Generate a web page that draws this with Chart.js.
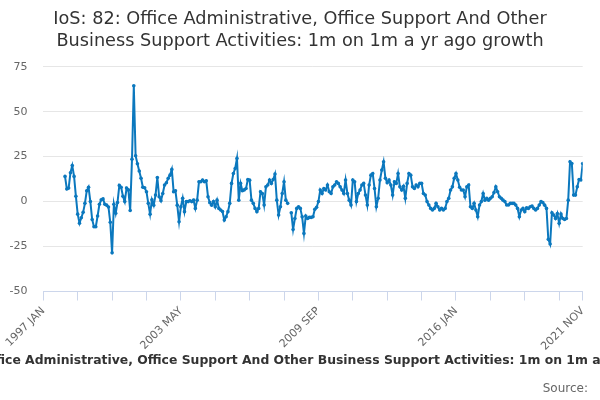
<!DOCTYPE html>
<html><head><meta charset="utf-8">
<script src="https://cdn.jsdelivr.net/npm/chart.js@4"></script>
<style>html,body{margin:0;padding:0;background:#fff}</style>
</head><body>
<canvas id="c" width="600" height="400"></canvas>
<script>
const monthNames = ['JAN','FEB','MAR','APR','MAY','JUN','JUL','AUG','SEP','OCT','NOV','DEC'];
const firstYear = 1997, lastYear = 2021, lastMonthIndex = 10;
const categories = [];
for (let y = firstYear; y <= lastYear; y++) {
  for (let m = 0; m < 12; m++) {
    if (y === lastYear && m > lastMonthIndex) break;
    categories.push(y + ' ' + monthNames[m]);
  }
}
const growth = [
  null,null,null,null,null,null,null,null,null,null,null,null,
  14, 7, 7.5, 16, 20, 14, 3, -7, -12, -9, -6, -1,
  6, 8, 0, -10, -14, -14, -8, -1.5, 1, 1.5, -1.5, -2,
  -3, -11.5, -28.5, -1.5, -6.5, -0.5, 9, 8, 3, 0, 7.5, 6.5,
  -5, 23.6, 64.4, 25.5, 21, 17, 13, 8, 7.7, 5.5, -1, -7,
  1, -2, 3.6, 13.4, 2.7, 0.5, 4.5, 9.2, 10.5, 12.9, 14.7, 17.9,
  5.5, 6, -2, -11.2, -2.9, 1.8, -5.6, 0, 0, 0.5, 0, 0.8,
  -3.8, 0.8, 11, 11, 12, 11, 11.6, 2.7, -0.6, -2, 0, -2.9,
  0.8, -3.8, -4.7, -5.5, -10.3, -8.4, -5.6, -1, 10.1, 15.6, 18.4, 24,
  0.8, 10.1, 6, 6.5, 7.3, 12.3, 11.9, 0.8, -1, -3.8, -5.6, -3.8,
  5.5, 4.5, -1.9, 8.2, 9.2, 12, 10.1, 12.3, 15.3, 0.8, -7.5, -2.9,
  4.5, 11, 0.8, -1, null, -6.2, -15.5, -9.4, -3.8, -2.9, -3.8, -8.5,
  -17.7, -8, -9.4, -8.8, -8.8, -8.4, -4.3, -3.2, 0, 6.4, 4.5, 7.3,
  6.4, 9.2, 5.5, 4.5, 8.2, 9.2, 11, 10.1, 8.2, 6.4, 4.5, 12,
  4.5, 0.8, -1.9, 12, 11, 0, 4.5, 6.4, 9.2, 10.1, 3.6, -1.9,
  9.2, 14.7, 15.6, 7.3, -2.9, 1.8, 12, 17.5, 22.1, 13, 10.5, 12,
  9.2, 3.6, 11, 10.1, 15.6, 8.2, 6.4, 8.5, 1.8, 10.1, 15.6, 14.7,
  8.2, 7.3, 9.2, 8.2, 10.1, 10.1, 4.5, 3.6, 0, -1.9, -3.8, -4.7,
  -3.8, -1, -2.9, -4.7, -3.8, -4.7, -3.8, 0, 1.8, 6.4, 8.2, 12.9,
  15.6, 12, 8, 6.4, 6.4, 2.7, 8.2, 9.2, -2.9, -3.8, -1, -4.7,
  -8.4, -1.9, 0, 4.5, 0.8, 1.8, 0.8, 1.8, 2.7, 5, 8.2, 5.5,
  2.7, 1.8, 0.8, 0, -1.9, -1.9, -1, -1, -1, -1.9, -3.8, -8.4,
  -4.7, -3.8, -5.6, -3.5, -3.8, -2.9, -2.5, -3.8, -4.7, -3.8, -1.9, 0,
  -0.6, -2, -3.8, -21, -23.6, -6.2, -7.5, -9.4, -6.6, -12.1, -6.9, -9.4,
  -9.9, -9.4, 0.8, 22.1, 21.2, 3.6, 3.6, 8.2, 12.3, 12, 21.2
];
const tickLabels = ['1997 JAN','2003 MAY','2009 SEP','2016 JAN','2021 NOV'];
const tickStep = 19;
const yMin = -50, yMax = 75, yStep = 25;
const titleLines = ['IoS: 82: Office Administrative, Office Support And Other','Business Support Activities: 1m on 1m a yr ago growth'];
const axisTitle = 'IoS: 82: Office Administrative, Office Support And Other Business Support Activities: 1m on 1m a yr ago growth';
const sourceText = 'Source:';

const FONT = '"DejaVu Sans", "Noto Sans", sans-serif';
const lineColor = '#0b78be';

const textPlugin = {
  id: 'extraText',
  afterDraw(chart) {
    const ctx = chart.ctx;
    const area = chart.chartArea;
    ctx.save();
    ctx.textBaseline = 'middle';
    ctx.font = 'bold 12.4px ' + FONT;
    ctx.fillStyle = '#333';
    ctx.textAlign = 'center';
    ctx.fillText(axisTitle, (area.left + area.right) / 2, chart.height - 39);
    ctx.font = '12px ' + FONT;
    ctx.fillStyle = '#666';
    ctx.textAlign = 'right';
    ctx.fillText(sourceText, chart.width - 12, chart.height - 11);
    ctx.restore();
  }
};

new Chart(document.getElementById('c'), {
  type: 'line',
  data: {
    datasets: [{
      data: growth.map((v, i) => ({x: i, y: v})),
      borderColor: lineColor,
      backgroundColor: lineColor,
      borderWidth: 2,
      pointRadius: 1.8,
      pointBorderWidth: 0,
      pointBackgroundColor: lineColor,
      pointHoverRadius: 0,
      tension: 0,
      spanGaps: false
    }]
  },
  options: {
    responsive: false,
    animation: false,
    devicePixelRatio: 1,
    layout: { padding: { left: 0, right: 0, top: 0, bottom: 21.4 } },
    plugins: {
      legend: { display: false },
      tooltip: { enabled: false },
      title: {
        display: true,
        text: titleLines,
        color: '#333',
        font: { family: FONT, size: 17.7, weight: 'normal', lineHeight: 1.22 },
        padding: { top: 9, bottom: 14.5 }
      }
    },
    scales: {
      x: {
        type: 'linear',
        min: 0,
        max: categories.length - 1,
        afterBuildTicks(s) {
          const t = [];
          for (let v = 0; v < categories.length - 1; v += tickStep) t.push({ value: v });
          t.push({ value: categories.length - 1 });
          s.ticks = t;
        },
        afterFit(s) { s.height = 87.1; s.paddingRight = 17.3; s.paddingLeft = 0; },
        ticks: {
          autoSkip: false,
          minRotation: 45,
          maxRotation: 45,
          padding: 4,
          color: '#666',
          font: { family: FONT, size: 11 },
          callback: (v) => tickLabels.includes(categories[v]) ? categories[v] : ''
        },
        grid: {
          display: true,
          drawOnChartArea: false,
          drawTicks: true,
          tickLength: 9,
          color: '#ccd6eb',
          lineWidth: 1
        },
        border: { display: true, color: '#ccd6eb', width: 1 },
        title: { display: false }
      },
      y: {
        min: yMin,
        max: yMax,
        afterFit(s) { s.width = 43.3; },
        ticks: {
          stepSize: yStep,
          padding: 15.8,
          color: '#666',
          font: { family: FONT, size: 11 }
        },
        grid: { color: '#e6e6e6', lineWidth: 1, drawTicks: false },
        border: { display: false }
      }
    }
  },
  plugins: [textPlugin]
});
</script>
</body></html>
